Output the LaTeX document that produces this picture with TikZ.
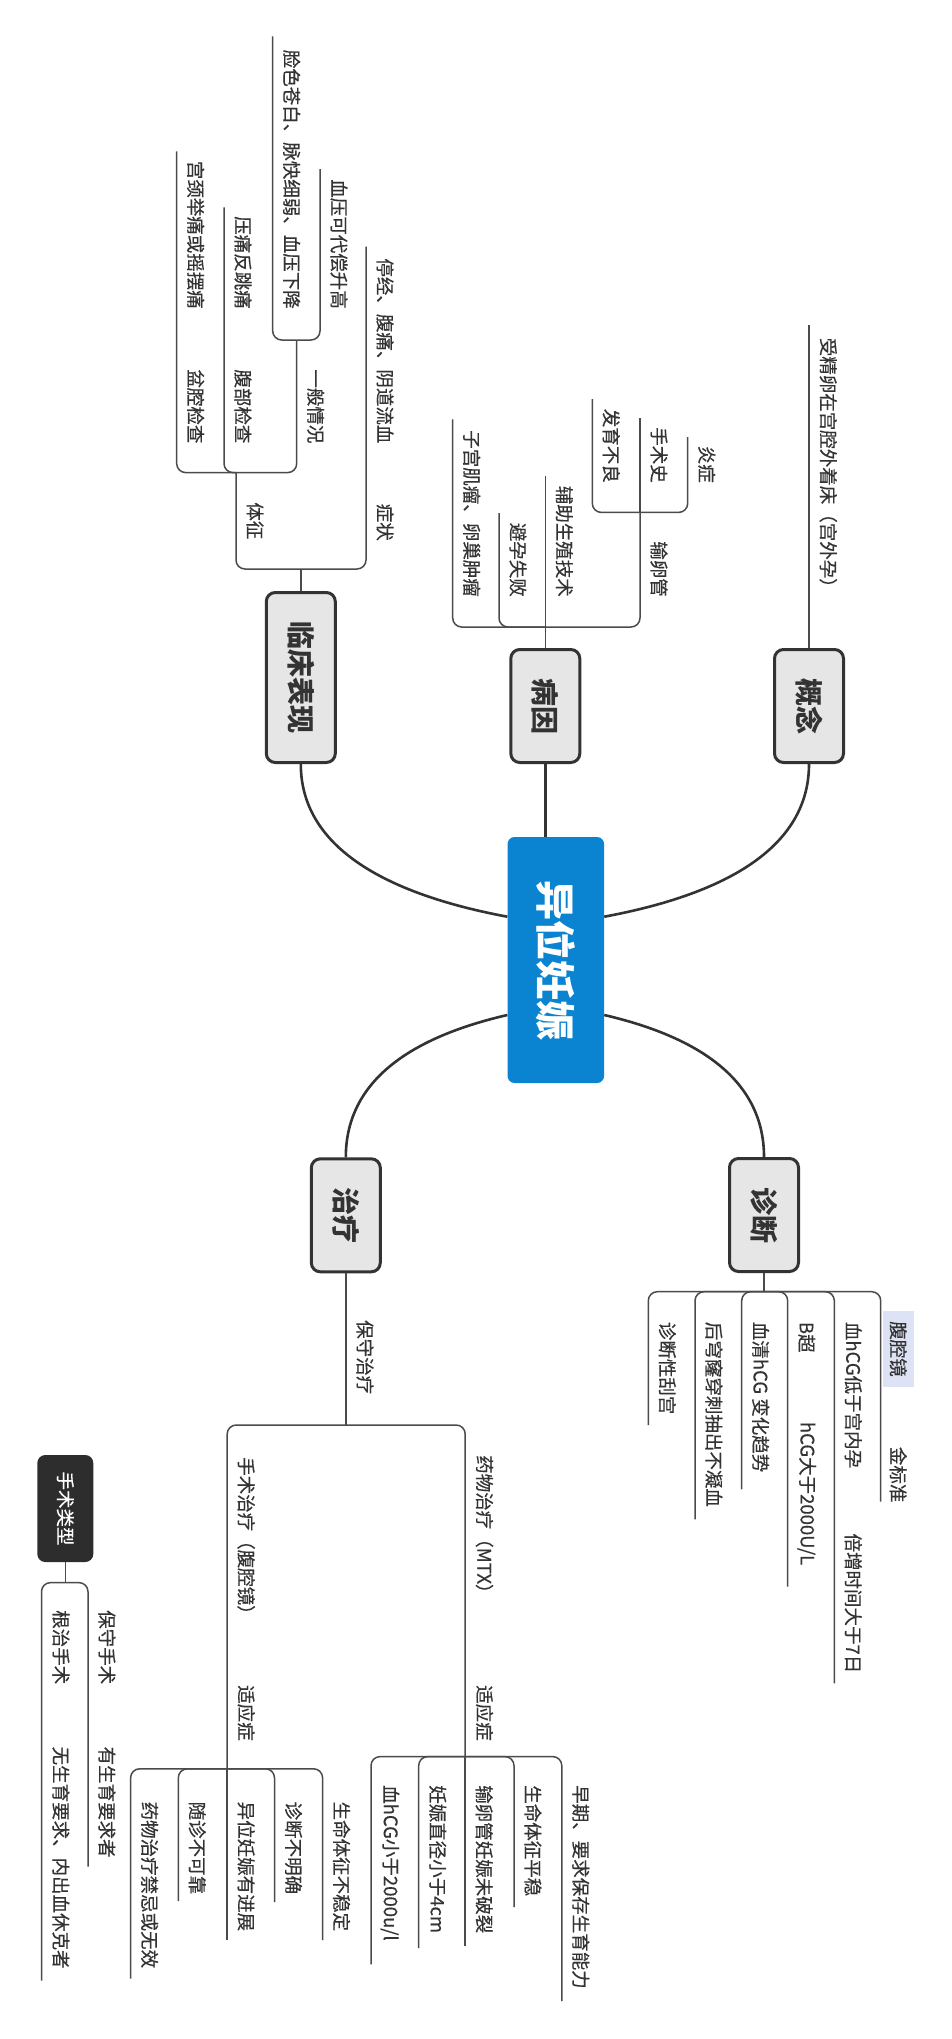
\documentclass[tikz,border=0pt]{standalone}
\usepackage{fontspec}
\usepackage{graphicx,xcolor}
\setmainfont{Noto Sans CJK SC}
\newfontfamily\cjk{Noto Sans CJK SC}
\newfontfamily\cjkleaf[FakeBold=0.4]{Noto Sans CJK SC}
\definecolor{hubblue}{RGB}{10,132,208}
\definecolor{topicgray}{RGB}{230,230,230}
\definecolor{inkgray}{RGB}{51,51,51}
\definecolor{linegray}{RGB}{75,75,75}
\definecolor{marklav}{RGB}{221,227,245}
\definecolor{floatdark}{RGB}{45,45,45}
\usetikzlibrary{positioning,calc}

\begin{document}
\begin{tikzpicture}[
  x=1pt, y=-1pt,
  every node/.style={font=\cjk},
  hub/.style={fill=hubblue,rounded corners=7pt,minimum width=96.5pt,minimum height=246pt,
              inner sep=0pt,text=white,font=\cjk\fontsize{40}{40}\selectfont\bfseries},
  topic/.style={draw=inkgray,line width=3pt,fill=topicgray,rounded corners=9pt,
                minimum width=69pt,minimum height=113pt,inner sep=0pt,text=inkgray,
                font=\cjk\fontsize{28}{28}\selectfont\bfseries},
  floatbox/.style={fill=floatdark,rounded corners=8pt,minimum width=56pt,minimum height=107pt,
                   inner sep=0pt,text=white,font=\cjkleaf\fontsize{18.5}{20}\selectfont},
  leaf/.style={rotate=-90,inner sep=0pt,text=inkgray,font=\cjkleaf\fontsize{18.5}{20}\selectfont},
  trunk/.style={draw=inkgray,line width=2.6pt},
  twig/.style={draw=linegray,line width=1.5pt,rounded corners=9pt},
]
  \fill[white] (0,0) rectangle (951,2039);
  \useasboundingbox (0,0) rectangle (951,2039);

  % Central topic
  \node[hub] (hub) at (555.8,960) {\rotatebox{-90}{异位妊娠}};

  % Main topics
  \node[topic] (gainian) at (809,706) {\rotatebox{-90}{概念}};
  \node[topic] (bingyin) at (545.3,706) {\rotatebox{-90}{病因}};
  \node[topic,minimum height=170pt] (linchuang) at (300.8,677.5) {\rotatebox{-90}{临床表现}};
  \node[topic] (zhenduan) at (764,1215) {\rotatebox{-90}{诊断}};
  \node[topic] (zhiliao) at (345.8,1215.3) {\rotatebox{-90}{治疗}};

  % Trunk curves
  \draw[trunk] ([yshift=43.3pt]hub.east) .. controls (710,897) and (809,855) .. (gainian.south);
  \draw[trunk] (hub.north -| bingyin.south) -- (bingyin.south);
  \draw[trunk] ([yshift=43.3pt]hub.west) .. controls (402,897) and (300.8,855) .. (linchuang.south);
  \draw[trunk] ([yshift=-55pt]hub.east) .. controls (690,1035) and (764,1075) .. (zhenduan.north);
  \draw[trunk] ([yshift=-55pt]hub.west) .. controls (421,1035) and (345.8,1075) .. (zhiliao.north);

  % Concept
  \node[leaf,anchor=east] (shoujing) at (828.3,597) {受精卵在宫腔外着床（宫外孕）};
  \coordinate (shoujingEnd) at (809,324.7);
  \draw[twig] (gainian.north) -- (shoujingEnd);

  % Causes
  \coordinate (byJ) at (545.3,627);
  \draw[twig] (bingyin.north) -- (byJ);
  \node[leaf,anchor=east] (zigong) at (471.7,597) {子宫肌瘤、卵巢肿瘤};
  \coordinate (zigongEnd) at (452.7,419.4);
  \draw[twig] (byJ) -| (zigongEnd);
  \node[leaf,anchor=east] (biyun) at (518,597) {避孕失败};
  \coordinate (biyunEnd) at (499,513);
  \draw[twig] (byJ) -| (biyunEnd);
  \node[leaf,anchor=east] (fuzhu) at (564.3,597) {辅助生殖技术};
  \coordinate (fuzhuEnd) at (545.3,476);
  \draw[twig] (byJ) -- (fuzhuEnd);
  \node[leaf,anchor=east] (shuluan) at (659,597) {输卵管};
  \coordinate (shuluanJ) at (640,512.4);
  \draw[twig] (byJ) -| (shuluanJ);
  \node[leaf,anchor=east] (fayu) at (611.3,483) {发育不良};
  \coordinate (fayuEnd) at (592.3,399);
  \draw[twig] (shuluanJ) -| (fayuEnd);
  \node[leaf,anchor=east] (shoushushi) at (659,483) {手术史};
  \coordinate (shoushushiEnd) at (640,418.4);
  \draw[twig] (shuluanJ) -- (shoushushiEnd);
  \node[leaf,anchor=east] (yanzheng) at (706.7,483) {炎症};
  \coordinate (yanzhengEnd) at (687.7,437);
  \draw[twig] (shuluanJ) -| (yanzhengEnd);

  % Clinical signs
  \coordinate (lcJ) at (300.8,569);
  \draw[twig] (linchuang.north) -- (lcJ);
  \node[leaf,anchor=east] (zhengzhuang) at (385,541) {症状};
  \node[leaf,anchor=east] (tingjing) at (385,443.6) {停经、腹痛、阴道流血};
  \coordinate (zhengzhuangEnd) at (366,246.7);
  \draw[twig] (lcJ) -| (zhengzhuangEnd);
  \node[leaf,anchor=east] (tizheng) at (255,539.5) {体征};
  \coordinate (tizhengJ) at (236,472.6);
  \draw[twig] (lcJ) -| (tizhengJ);
  \node[leaf,anchor=east] (penqiang) at (195.7,443.6) {盆腔检查};
  \node[leaf,anchor=east] (gongjing) at (195.7,309) {宫颈举痛或摇摆痛};
  \coordinate (penqiangEnd) at (176.7,151.3);
  \draw[twig] (tizhengJ) -| (penqiangEnd);
  \node[leaf,anchor=east] (fubu) at (243,443.6) {腹部检查};
  \node[leaf,anchor=east] (yatong) at (243,309) {压痛反跳痛};
  \coordinate (fubuEnd) at (224,207.3);
  \draw[twig] (tizhengJ) -| (fubuEnd);
  \node[leaf,anchor=east] (yiban) at (315.7,443.6) {一般情况};
  \coordinate (yibanJ) at (296.7,340);
  \draw[twig] (tizhengJ) -| (yibanJ);
  \node[leaf,anchor=east] (lianse) at (291.7,309) {脸色苍白、脉快细弱、血压下降};
  \coordinate (lianseEnd) at (272.7,36.5);
  \draw[twig] (yibanJ) -| (lianseEnd);
  \node[leaf,anchor=east] (xueya) at (339,309) {血压可代偿升高};
  \coordinate (xueyaEnd) at (320,169);
  \draw[twig] (yibanJ) -| (xueyaEnd);

  % Diagnosis
  \coordinate (zdJ) at (764,1291.7);
  \draw[twig] (zhenduan.south) -- (zdJ);
  \node[leaf,anchor=west] (guagong) at (667.3,1321.7) {诊断性刮宫};
  \coordinate (guagongEnd) at (648.3,1425);
  \draw[twig] (zdJ) -| (guagongEnd);
  \node[leaf,anchor=west] (houqiong) at (714,1321.7) {后穹窿穿刺抽出不凝血};
  \coordinate (houqiongEnd) at (695,1519.3);
  \draw[twig] (zdJ) -| (houqiongEnd);
  \node[leaf,anchor=west] (xueqing) at (760.7,1321.7) {血清hCG 变化趋势};
  \coordinate (xueqingEnd) at (741.7,1489.3);
  \draw[twig] (zdJ) -| (xueqingEnd);
  \node[leaf,anchor=west] (bchao) at (806.7,1321.7) {B超};
  \node[leaf,anchor=west] (bchaoA) at (806.7,1421.7) {hCG大于2000U/L};
  \coordinate (bchaoEnd) at (787.7,1586.7);
  \draw[twig] (zdJ) -| (bchaoEnd);
  \node[leaf,anchor=west] (xuehcg) at (853.3,1321.7) {血hCG低于宫内孕};
  \node[leaf,anchor=west] (xuehcgA) at (853.3,1533.3) {倍增时间大于7日};
  \coordinate (xuehcgEnd) at (834.3,1683.3);
  \draw[twig] (zdJ) -| (xuehcgEnd);
  \node[leaf,anchor=west,fill=marklav,inner xsep=10pt,inner ysep=7pt] (fuqiang) at (898.3,1311) {腹腔镜};
  \node[leaf,anchor=west] (fuqiangA) at (898.3,1446.7) {金标准};
  \coordinate (fuqiangEnd) at (880.7,1501.7);
  \draw[twig] (zdJ) -| (fuqiangEnd);

  % Treatment
  \coordinate (baoshouJ) at (345.8,1425);
  \draw[twig] (zhiliao.south) -- (baoshouJ);
  \node[leaf,anchor=west] (baoshou) at (365,1320) {保守治疗};
  \node[leaf,anchor=west] (yaowu) at (484.5,1455) {药物治疗（MTX）};
  \node[leaf,anchor=west] (yaowuSyz) at (484.5,1685) {适应症};
  \coordinate (yaowuJ) at (465.2,1756.6);
  \draw[twig] (baoshouJ) -| (yaowuJ);
  \node[leaf,anchor=west] (mtxA) at (390,1785) {血hCG小于2000u/l};
  \coordinate (mtxAEnd) at (371,1964.4);
  \draw[twig] (yaowuJ) -| (mtxAEnd);
  \node[leaf,anchor=west] (mtxB) at (437.7,1785) {妊娠直径小于4cm};
  \coordinate (mtxBEnd) at (418.7,1948);
  \draw[twig] (yaowuJ) -| (mtxBEnd);
  \node[leaf,anchor=west] (mtxC) at (484.2,1785) {输卵管妊娠未破裂};
  \coordinate (mtxCEnd) at (465.2,1946);
  \draw[twig] (yaowuJ) -- (mtxCEnd);
  \node[leaf,anchor=west] (mtxD) at (533,1785) {生命体征平稳};
  \coordinate (mtxDEnd) at (514,1907);
  \draw[twig] (yaowuJ) -| (mtxDEnd);
  \node[leaf,anchor=west] (mtxE) at (580.8,1785) {早期、要求保存生育能力};
  \coordinate (mtxEEnd) at (561.8,2001);
  \draw[twig] (yaowuJ) -| (mtxEEnd);

  \node[leaf,anchor=west] (shoushu) at (246.2,1457) {手术治疗（腹腔镜）};
  \node[leaf,anchor=west] (shoushuSyz) at (246.2,1685) {适应症};
  \coordinate (shoushuJ) at (227.2,1768.8);
  \draw[twig] (baoshouJ) -| (shoushuJ);
  \node[leaf,anchor=west] (opA) at (149.6,1801.4) {药物治疗禁忌或无效};
  \coordinate (opAEnd) at (130.6,1978.6);
  \draw[twig] (shoushuJ) -| (opAEnd);
  \node[leaf,anchor=west] (opB) at (197.3,1801.4) {随诊不可靠};
  \coordinate (opBEnd) at (178.3,1901.2);
  \draw[twig] (shoushuJ) -| (opBEnd);
  \node[leaf,anchor=west] (opC) at (246.2,1801.4) {异位妊娠有进展};
  \coordinate (opCEnd) at (227.2,1940);
  \draw[twig] (shoushuJ) -- (opCEnd);
  \node[leaf,anchor=west] (opD) at (293.5,1801.4) {诊断不明确};
  \coordinate (opDEnd) at (274.5,1902);
  \draw[twig] (shoushuJ) -| (opDEnd);
  \node[leaf,anchor=west] (opE) at (341.6,1801.4) {生命体征不稳定};
  \coordinate (opEEnd) at (322.6,1940);
  \draw[twig] (shoushuJ) -| (opEEnd);

  % Floating topic
  \node[floatbox] (leixing) at (65.3,1508.5) {\rotatebox{-90}{手术类型}};
  \coordinate (leixingJ) at (65.3,1582.6);
  \draw[twig] (leixing.south) -- (leixingJ);
  \node[leaf,anchor=west] (genzhi) at (61,1610) {根治手术};
  \node[leaf,anchor=west] (genzhiA) at (61,1746.4) {无生育要求、内出血休克者};
  \coordinate (genzhiEnd) at (41.5,1980.7);
  \draw[twig] (leixingJ) -| (genzhiEnd);
  \node[leaf,anchor=west] (baoshouOp) at (107,1610) {保守手术};
  \node[leaf,anchor=west] (baoshouOpA) at (107,1746.4) {有生育要求者};
  \coordinate (baoshouOpEnd) at (88,1866.6);
  \draw[twig] (leixingJ) -| (baoshouOpEnd);
\end{tikzpicture}
\end{document}
